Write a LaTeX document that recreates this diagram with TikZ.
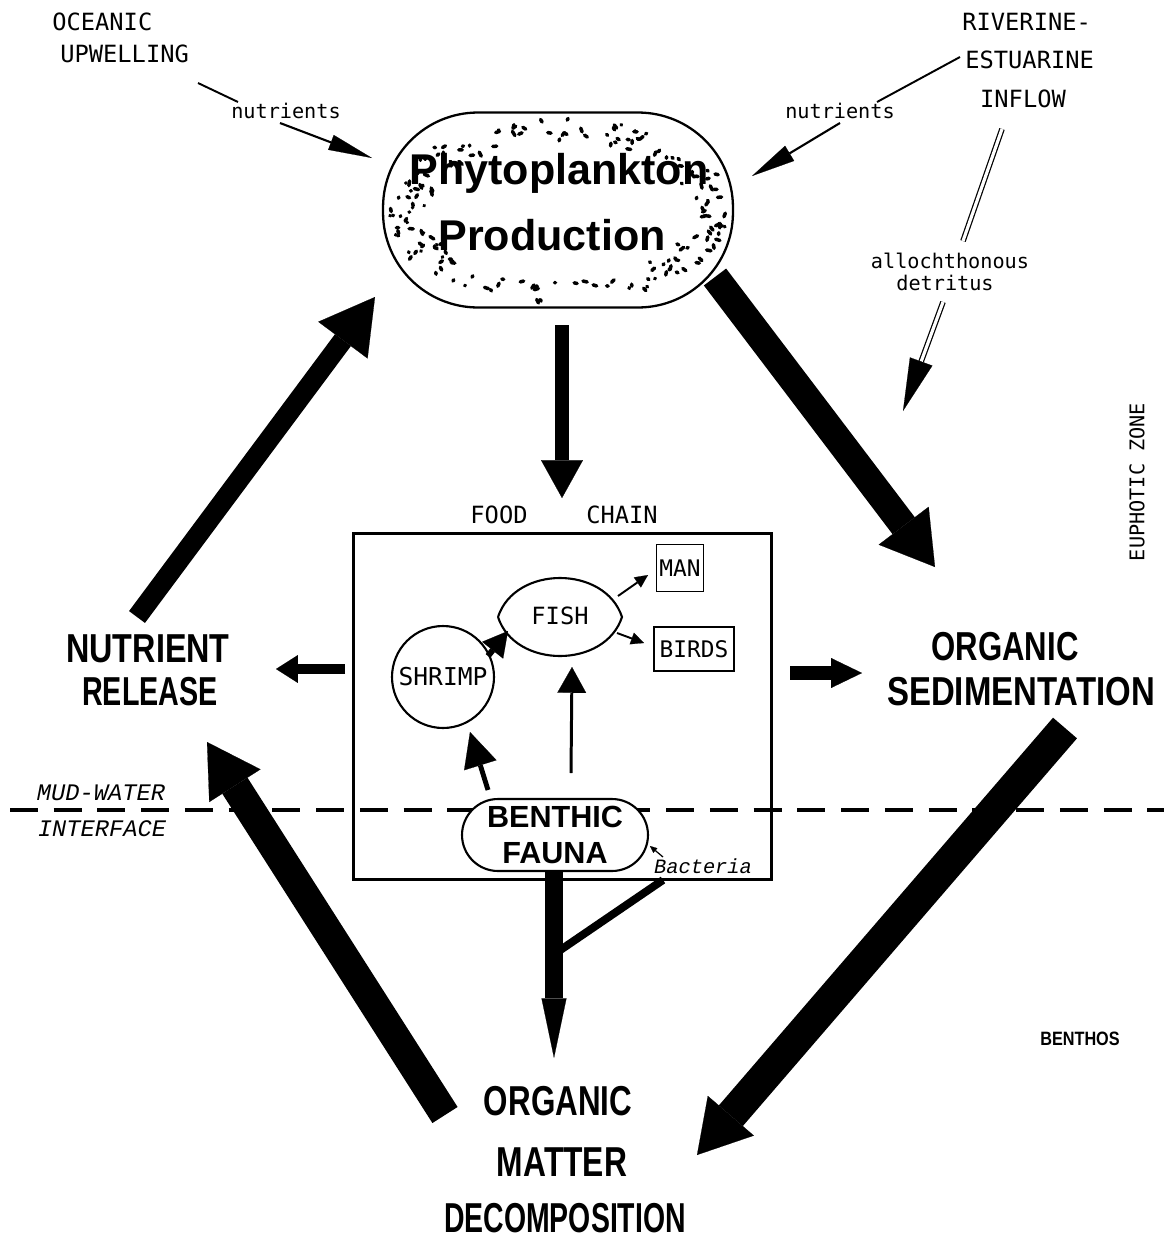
\documentclass[tikz,border=0pt]{standalone}
\usepackage{fontspec}
\usepackage{graphicx}
\setmonofont{DejaVu Sans Mono}
\newfontfamily\bsf{Liberation Sans}
\newfontfamily\twi{Liberation Mono}
\usetikzlibrary{arrows.meta}
\tikzset{
  tw/.style={font=\ttfamily\fontsize{#1}{#1}\selectfont, inner sep=0pt},
  twit/.style={font=\twi\itshape\fontsize{#1}{#1}\selectfont, inner sep=0pt},
  bigl/.style={font=\bsf\bfseries\fontsize{#1}{#1}\selectfont, inner sep=0pt},
  fat/.style args={#1/#2/#3}{line width=#1pt, -{Triangle[length=#2pt,width=#3pt,line width=0.1pt]}},
  thinl/.style={line width=1.1pt},
  dbl/.style={line width=0.7pt, double, double distance=1.8pt},
}
\begin{document}
\begin{tikzpicture}[x=0.02cm,y=-0.02cm]
\useasboundingbox (0,0) rectangle (1164,1241);

% mud-water interface
\coordinate (mwl) at (10,810);
\coordinate (mwr) at (1164,810);
\draw[line width=2pt, dash pattern=on 15.9pt off 9pt] (mwl) -- (mwr);
\node[twit=13.5, anchor=base] (mud) at (101,800) {MUD-WATER};
\node[twit=13.5, anchor=base] (inter) at (102,836) {INTERFACE};

% phytoplankton
\node[draw, line width=1.3pt, rounded corners=1.9cm, minimum width=7cm, minimum height=3.9cm] (phyto) at (558,210) {};
\pgfmathsetseed{23}
\foreach \i in {1,...,175}{
  \pgfmathsetmacro\dang{rnd*360}
  \pgfmathsetmacro\dsc{0.74+0.22*rnd}
  \pgfmathsetmacro\dbe{rnd*180}
  \pgfmathsetmacro\dle{0.3+4.5*rnd}
  \draw[line width=2pt, line cap=round] ({558+178*\dsc*cos(\dang)},{210+96*\dsc*sin(\dang)}) -- ++({\dle*cos(\dbe)},{\dle*sin(\dbe)});
}
\node[bigl=24.5, anchor=base] (pt1) at (559,184) {Phytoplankton};
\node[bigl=24.5, anchor=base] (pt2) at (552,250) {Production};

% top labels
\node[tw=13.5, anchor=base west] (oc1) at (52,30) {OCEANIC};
\node[tw=13.5, anchor=base west] (oc2) at (60,62) {UPWELLING};
\node[tw=11.5, anchor=base] (nutl) at (286,118) {nutrients};
\node[tw=13.5, anchor=base west] (ri1) at (962,30) {RIVERINE-};
\node[tw=13.5, anchor=base west] (ri2) at (965,68) {ESTUARINE};
\node[tw=13.5, anchor=base] (ri3) at (1023,107) {INFLOW};
\node[tw=11.5, anchor=base] (nutr) at (840,118) {nutrients};
\node[tw=11.5, anchor=base] (al1) at (950,268) {allochthonous};
\node[tw=11.5, anchor=base] (al2) at (945,290) {detritus};
\node[tw=11.5, rotate=90] (euph) at (1137,482) {EUPHOTIC ZONE};
\node[bigl=11, anchor=base] (benthos) at (1080,1045) {\scalebox{0.84}[1]{BENTHOS}};

% nutrient inputs
\coordinate (l1a) at (198,83); \coordinate (l1b) at (238,102);
\coordinate (l2a) at (280,123); \coordinate (l2b) at (372,158);
\draw[thinl] (l1a) -- (l1b);
\draw[line width=1.2pt, -{Triangle[length=25pt,width=9pt,line width=0.1pt]}] (l2a) -- (l2b);
\coordinate (r1a) at (960,57); \coordinate (r1b) at (877,102);
\coordinate (r2a) at (840,123); \coordinate (r2b) at (752,176);
\draw[thinl] (r1a) -- (r1b);
\draw[line width=1.2pt, -{Triangle[length=25pt,width=10pt,line width=0.1pt]}] (r2a) -- (r2b);

% allochthonous detritus
\coordinate (d1a) at (1002,129); \coordinate (d1b) at (963,241);
\coordinate (d2a) at (943,302); \coordinate (d2b) at (903,411);
\draw[dbl] (d1a) -- (d1b);
\draw[dbl, -{Triangle[length=30pt,width=13.6pt,line width=0.1pt]}] (d2a) -- (d2b);

% big labels
\node[bigl=23, anchor=base] (nr1) at (148,662) {\scalebox{0.8}[1]{NUTRIENT}};
\node[bigl=23, anchor=base] (nr2) at (150,705) {\scalebox{0.71}[1]{RELEASE}};
\node[bigl=23, anchor=base] (os1) at (1005,660) {\scalebox{0.77}[1]{ORGANIC}};
\node[bigl=23, anchor=base] (os2) at (1021,705) {\scalebox{0.815}[1]{SEDIMENTATION}};
\node[bigl=23.8, anchor=base] (om1) at (558,1115) {\scalebox{0.75}[1]{ORGANIC}};
\node[bigl=23.8, anchor=base] (om2) at (562,1176) {\scalebox{0.76}[1]{MATTER}};
\node[bigl=23.8, anchor=base] (om3) at (565,1232) {\scalebox{0.68}[1]{DECOMPOSITION}};

% food chain box
\node[tw=13.5, anchor=base] (food) at (499,523) {FOOD};
\node[tw=13.5, anchor=base] (chainl) at (622,523) {CHAIN};
\node[draw, line width=1.7pt, minimum width=8.38cm, minimum height=6.94cm] (chain) at (562.5,706.5) {};
\node[draw, line width=1.1pt, minimum width=0.94cm, minimum height=0.94cm, inner sep=0pt, tw=13] (man) at (680,568) {MAN};
\node[draw, line width=1.1pt, minimum width=1.6cm, minimum height=0.88cm, inner sep=0pt, tw=13] (birds) at (694,649) {BIRDS};
\node[draw, circle, line width=1.2pt, minimum size=2.04cm, inner sep=0pt, tw=14] (shrimp) at (443,677) {SHRIMP};
\draw[line width=1.2pt] (498,617) .. controls (515,565) and (605,565) .. (622,617) .. controls (605,669) and (515,669) .. (498,617);
\node[tw=13.5] (fish) at (560,616) {FISH};
\node[draw, line width=1.2pt, fill=white, rounded corners=0.72cm, minimum width=3.72cm, minimum height=1.44cm, inner sep=0pt, align=center, font=\bsf\bfseries\fontsize{17.4}{21}\selectfont] (benthic) at (555,835) {BENTHIC\\FAUNA};
\node[twit=11.6, anchor=base] (bact) at (703,873) {Bacteria};

% food chain arrows
\coordinate (sfa) at (488,656); \coordinate (sfb) at (508,631);
\draw[fat=3.4/14/15.3] (sfa) -- (sfb);
\coordinate (fma) at (618,596); \coordinate (fmb) at (648,575);
\draw[fat=1.1/7.4/7] (fma) -- (fmb);
\coordinate (fba) at (617,633); \coordinate (fbb) at (644,643);
\draw[fat=1.1/7.4/7] (fba) -- (fbb);
\coordinate (bsa) at (488,790); \coordinate (bsb) at (470,732);
\draw[fat=2.8/19.8/19.3] (bsa) -- (bsb);
\coordinate (bfa) at (571,773); \coordinate (bfb) at (572,667);
\draw[fat=1.7/14.7/16.4] (bfa) -- (bfb);
\coordinate (bca) at (663,857); \coordinate (bcb) at (650,846);
\draw[line width=0.7pt, -{Triangle[length=4pt,width=3.5pt,line width=0.1pt]}] (bca) -- (bcb);

% main flows
\coordinate (a1a) at (137,617); \coordinate (a1b) at (375,297);
\draw[fat=11.3/30.6/35] (a1a) -- (a1b);
\coordinate (a2a) at (715,277); \coordinate (a2b) at (935,567);
\draw[fat=15.9/29.5/35.7] (a2a) -- (a2b);
\coordinate (a3a) at (1065,728); \coordinate (a3b) at (697,1155);
\draw[fat=18/29.5/34.6] (a3a) -- (a3b);
\coordinate (a4a) at (445,1115); \coordinate (a4b) at (207,742);
\draw[fat=17/29.5/34.6] (a4a) -- (a4b);
\coordinate (a5a) at (562,325); \coordinate (a5b) at (562,498);
\draw[fat=8.5/21.5/23.8] (a5a) -- (a5b);
\coordinate (a6a) at (345,669); \coordinate (a6b) at (276,669);
\draw[fat=6.2/12.5/15.9] (a6a) -- (a6b);
\coordinate (a7a) at (790,673); \coordinate (a7b) at (862,673);
\draw[fat=8/17.6/17] (a7a) -- (a7b);
\coordinate (a8a) at (554,872); \coordinate (a8b) at (554,1058);
\draw[fat=10.2/34/14.2] (a8a) -- (a8b);
\coordinate (bra) at (663,880); \coordinate (brb) at (556,953);
\draw[line width=4.5pt] (bra) -- (brb);
\end{tikzpicture}
\end{document}
